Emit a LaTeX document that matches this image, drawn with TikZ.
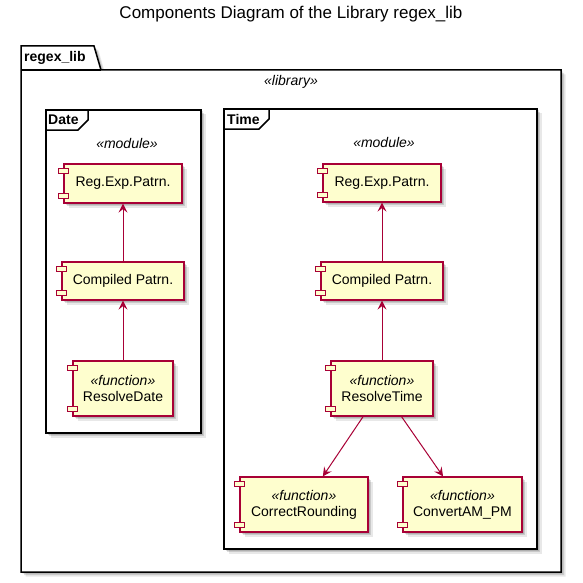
\documentclass[tikz,border=0pt]{standalone}
\usepackage{fontspec}
\setmainfont{Liberation Sans}
\usetikzlibrary{arrows.meta,calc,shadows}
\definecolor{compfill}{HTML}{FEFECE}
\definecolor{compline}{HTML}{A80036}
\tikzset{
  shad/.style={
    general shadow={shadow xshift=1.5pt,shadow yshift=-1.5pt,fill=black,opacity=.13},
    general shadow={shadow xshift=3pt,shadow yshift=-3pt,fill=black,opacity=.13},
    general shadow={shadow xshift=4.5pt,shadow yshift=-4.5pt,fill=black,opacity=.09}},
  comp/.style={shad,draw=compline,fill=compfill,line width=1.2pt,inner sep=0pt,
    align=center,font=\fontsize{14}{16}\selectfont},
  port/.style={draw=compline,fill=compfill,line width=1.2pt},
  dep/.style={draw=compline,line width=1pt,-{Stealth[length=9pt,width=9pt,inset=3.5pt]}},
  framebox/.style={shad,draw=black,fill=white,line width=1.5pt},
  frametab/.style={draw=black,line width=1.5pt},
  ster/.style={font=\itshape\fontsize{14}{16}\selectfont},
  flabel/.style={font=\bfseries\fontsize{14}{16}\selectfont,anchor=west,inner sep=0pt},
}
\newcommand\ports[1]{%
  \draw[port] ($(#1.north west)+(-5,5)$) rectangle ($(#1.north west)+(5,10)$);
  \draw[port] ($(#1.south west)+(-5,-10)$) rectangle ($(#1.south west)+(5,-5)$);
}
\begin{document}
\begin{tikzpicture}[x=1pt,y=-1pt]
\useasboundingbox[fill=white] (0,0) rectangle (582,583);
% title
\node (title) at (291,14) {\fontsize{17}{20}\selectfont Components Diagram of the Library regex\_lib};
% outer package
\path[framebox] (21,46) -- (94,46) -- (101,70) -- (561,70) -- (561,572) -- (21,572) -- cycle;
\draw[frametab] (21,70) -- (101,70);
\node[flabel] (pkg) at (24,58) {regex\_lib};
\node[ster] (lib) at (291,82) {«library»};
% Date frame
\path[framebox] (46,110) rectangle (201,433);
\draw[frametab] (46,130) -- (78,130) -- (88,120) -- (88,110);
\node[flabel] (datel) at (48,120) {Date};
\node[ster] (datem) at (127,143) {«module»};
% Time frame
\path[framebox] (224,109) rectangle (537,549);
\draw[frametab] (224,129) -- (259,129) -- (269,119) -- (269,109);
\node[flabel] (timel) at (227,119) {Time};
\node[ster] (timem) at (384,142) {«module»};
% Date components
\node[comp,minimum width=118,minimum height=39] (dreg) at (123,183.5) {Reg.Exp.Patrn.};
\node[comp,minimum width=122,minimum height=38] (dcomp) at (123,281) {Compiled Patrn.};
\node[comp,minimum width=100,minimum height=55] (dres) at (123,388.5) {\textit{«function»}\\ResolveDate};
% Time components
\node[comp,minimum width=118,minimum height=38] (treg) at (382,183) {Reg.Exp.Patrn.};
\node[comp,minimum width=122,minimum height=38] (tcomp) at (382,281) {Compiled Patrn.};
\node[comp,minimum width=102,minimum height=55] (tres) at (382,388.5) {\textit{«function»}\\ResolveTime};
\node[comp,minimum width=128,minimum height=55] (tcr) at (304,504.5) {\textit{«function»}\\CorrectRounding};
\node[comp,minimum width=119,minimum height=55] (tcv) at (462.5,504.5) {\textit{«function»}\\ConvertAM\_PM};
\foreach \n in {dreg,dcomp,dres,treg,tcomp,tres,tcr,tcv}{\ports{\n}}
% dependencies
\draw[dep] (dcomp) -- (dreg);
\draw[dep] (dres) -- (dcomp);
\draw[dep] (tcomp) -- (treg);
\draw[dep] (tres) -- (tcomp);
\draw[dep] (tres) -- (tcr);
\draw[dep] (tres) -- (tcv);
\end{tikzpicture}
\end{document}
